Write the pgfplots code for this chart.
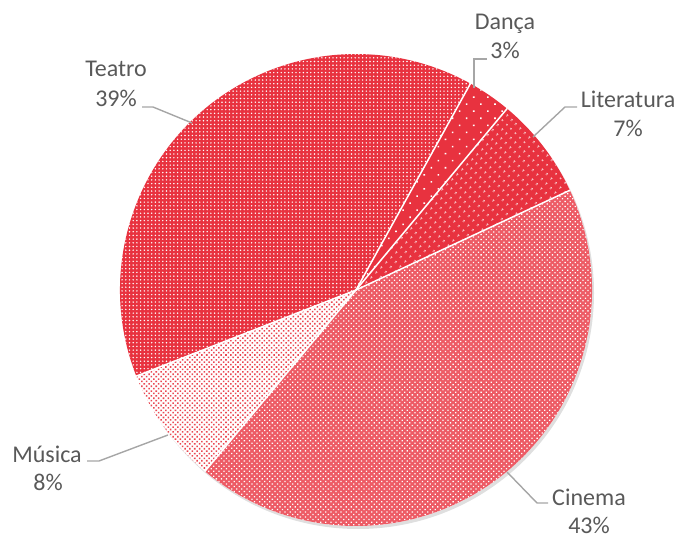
\documentclass[border=0pt]{standalone}
\usepackage{fontspec}
\setmainfont{Carlito}
\usepackage{pgfplots}
\pgfplotsset{compat=1.18}
\usepackage{pgfplotstable}
\usetikzlibrary{patterns.meta,shadows}
\definecolor{pred}{HTML}{E8323F}
\definecolor{lbl}{HTML}{595959}
\definecolor{lead}{HTML}{A6A6A6}

\pgfplotstableread[col sep=comma]{
name,pct
Dança,3
Literatura,7
Cinema,43
Música,8
Teatro,39
}\piedata

\tikzset{
  slice0/.style={fill=pred,postaction={pattern={Dots[distance=10pt,radius=1.1pt,angle=45]},pattern color=white}},
  slice1/.style={fill=pred,postaction={pattern={Dots[distance=6.5pt,radius=1pt,angle=45]},pattern color=white}},
  slice2/.style={fill=pred!80!white,postaction={pattern={Dots[distance=3.6pt,radius=0.9pt,angle=45]},pattern color=white}},
  slice3/.style={fill=white,postaction={pattern={Dots[distance=3.4pt,radius=1.1pt,angle=45]},pattern color=pred!90!white}},
  slice4/.style={fill=pred,postaction={pattern={Dots[distance=3.7pt,radius=0.8pt]},pattern color=white}},
  lab/.style={font=\fontsize{24}{29}\selectfont,text=lbl,anchor=base,inner sep=0pt},
  leader/.style={draw=lead,line width=1.4pt}
}

\begin{document}
\begin{tikzpicture}
\begin{axis}[
  hide axis, scale only axis,
  width=680pt, height=537pt,
  xmin=0, xmax=680, ymin=0, ymax=537,
  clip=false
]
% frame of the picture
\path (axis cs:0,0) rectangle (axis cs:680,537);
% shadow under the pie
\path[fill=white,drop shadow={shadow xshift=2pt,shadow yshift=-3pt,opacity=0.25}]
  (axis cs:356,247) circle[radius=236pt];

\pgfmathsetmacro\angstart{61}
\pgfplotsforeachungrouped \i in {0,...,4}{
  \pgfplotstablegetelem{\i}{pct}\of\piedata
  \pgfmathsetmacro\aend{\angstart-3.6*\pgfplotsretval}
  \pgfmathsetmacro\px{356+236*cos(\angstart)}
  \pgfmathsetmacro\py{247+236*sin(\angstart)}
  \edef\temp{\noexpand\path[slice\i] (axis cs:356,247) -- (axis cs:\px,\py)
    arc[start angle=\angstart, end angle=\aend, radius=236pt] -- cycle;}
  \temp
  \global\let\angstart\aend
}
% white borders between slices
\pgfmathsetmacro\angstart{61}
\pgfplotsforeachungrouped \i in {0,...,4}{
  \pgfplotstablegetelem{\i}{pct}\of\piedata
  \pgfmathsetmacro\px{356+236*cos(\angstart)}
  \pgfmathsetmacro\py{247+236*sin(\angstart)}
  \edef\temp{\noexpand\draw[white,line width=1.5pt,line cap=round] (axis cs:356,247) -- (axis cs:\px,\py);}
  \temp
  \pgfmathsetmacro\aend{\angstart-3.6*\pgfplotsretval}
  \global\let\angstart\aend
}

% leader lines
\draw[leader] (axis cs:487,478) -- (axis cs:474,478) -- (axis cs:474,449);
\draw[leader] (axis cs:577,430) -- (axis cs:565,430) -- (axis cs:533,400);
\draw[leader] (axis cs:142,430) -- (axis cs:153,430) -- (axis cs:192,414);
\draw[leader] (axis cs:87,76) -- (axis cs:99,76) -- (axis cs:168,102);
\draw[leader] (axis cs:507,65) -- (axis cs:537,34) -- (axis cs:548,34);

% labels
\node[lab] at (axis cs:505,507) {Dança};
\node[lab] at (axis cs:505,478) {3\%};
\node[lab] at (axis cs:628,429) {Literatura};
\node[lab] at (axis cs:628,400) {7\%};
\node[lab] at (axis cs:116,460) {Teatro};
\node[lab] at (axis cs:116,430) {39\%};
\node[lab] at (axis cs:47,75) {Música};
\node[lab] at (axis cs:48,47) {8\%};
\node[lab] at (axis cs:589,32) {Cinema};
\node[lab] at (axis cs:589,4) {43\%};
\end{axis}
\end{tikzpicture}
\end{document}
